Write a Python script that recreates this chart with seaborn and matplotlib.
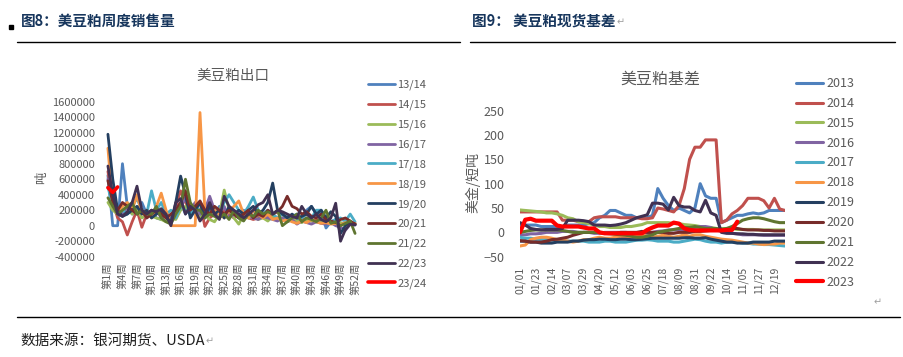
"""
Two panels: US soymeal weekly export sales and US soymeal spot basis.
"""
import matplotlib
matplotlib.use("Agg")
import matplotlib.pyplot as plt
from matplotlib.lines import Line2D
from matplotlib.patches import Rectangle
from matplotlib.ticker import FuncFormatter
import pandas as pd
import seaborn as sns

# ---------------- 图8 data (tonnes per week) ----------------
weeks = list(range(1, 53))
week_ticks = [1, 4, 7, 10, 13, 16, 19, 22, 25, 28, 31, 34, 37, 40, 43, 46, 49, 52]
week_labels = ['第1周', '第4周', '第7周', '第10周', '第13周', '第16周', '第19周', '第22周', '第25周',
               '第28周', '第31周', '第34周', '第37周', '第40周', '第43周', '第46周', '第49周', '第52周']

seasons = ['13/14', '14/15', '15/16', '16/17', '17/18', '18/19', '19/20', '20/21', '21/22', '22/23', '23/24']
season_colors = ['#4F81BD', '#C0504D', '#9BBB59', '#8064A2', '#4BACC6', '#F79646',
                 '#243F60', '#772C2A', '#5F7530', '#403152', '#FF0000']

s1314 = [650000, 0, 0, 800000, 250000, 150000, 200000, 300000, 150000, 200000, 100000, 80000, 150000,
         100000, 250000, 300000, 150000, 250000, 200000, 150000, 100000, 200000, 150000, 250000, 100000,
         200000, 150000, 100000, 200000, 150000, 200000, 100000, 150000, 200000, 120000, 100000, 80000,
         120000, 100000, 60000, 100000, 200000, 250000, 150000, 180000, -30000, 50000, 80000, 30000,
         40000, 20000, 10000]
s1415 = [700000, 300000, 100000, 50000, -120000, 50000, 200000, -20000, 150000, 200000, 150000, 200000,
         100000, 80000, 250000, 450000, 300000, 200000, 250000, 300000, -10000, 100000, 150000, 120000,
         200000, 150000, 100000, 150000, 120000, 100000, 80000, 100000, 120000, 100000, 150000, 80000,
         100000, 60000, 80000, 50000, 70000, 100000, 60000, 80000, 50000, 40000, 60000, 30000, 10000,
         40000, 20000, 30000]
s1516 = [300000, 200000, 150000, 200000, 250000, 150000, 200000, 100000, 150000, 120000, 100000, 80000,
         50000, 100000, 80000, 200000, 250000, 150000, 200000, 100000, 150000, 80000, 50000, 150000,
         460000, 200000, 100000, 20000, 150000, 100000, 120000, 80000, 100000, 60000, 120000, 80000,
         100000, 50000, 80000, 60000, 40000, 80000, 60000, 50000, 40000, 60000, 30000, 20000, 40000,
         10000, 30000, 20000]
s1617 = [600000, 250000, 200000, 150000, 250000, 200000, 150000, 200000, 100000, 150000, 200000, 100000,
         150000, 80000, 200000, 250000, 350000, 200000, 300000, 150000, 200000, 380000, 200000, 150000,
         250000, 100000, 150000, 100000, 150000, 120000, 100000, 80000, 120000, 100000, 80000, 60000,
         100000, 50000, 80000, 20000, 60000, 40000, 20000, 50000, 30000, 20000, 40000, 0, -20000,
         -60000, 20000, 10000]
s1718 = [500000, 250000, 150000, 200000, 150000, 250000, 350000, 200000, 150000, 450000, 200000, 300000,
         150000, 200000, 100000, 250000, 200000, 150000, 250000, 200000, 150000, 250000, 200000, 150000,
         300000, 400000, 300000, 200000, 150000, 250000, 370000, 200000, 150000, 200000, 150000, 100000,
         150000, 100000, 120000, 150000, 100000, 150000, 100000, 200000, 200000, 100000, 50000, 80000,
         100000, 60000, 150000, 50000]
s1819 = [1000000, 250000, 150000, 250000, 300000, 200000, 400000, 150000, 200000, 100000, 250000, 420000,
         200000, 0, 0, 0, 0, 0, 0, 1460000, 200000, 150000, 200000, 150000, 100000, 200000, 250000,
         320000, 150000, 100000, 200000, 150000, 100000, 150000, 80000, 100000, 60000, 80000, 50000,
         30000, 60000, 40000, 80000, 50000, 30000, 40000, 20000, 30000, 10000, 40000, 20000, 30000]
s1920 = [1180000, 600000, 200000, 120000, 150000, 200000, 250000, 150000, 200000, 100000, 150000, 200000,
         100000, 50000, 300000, 640000, 400000, 100000, 200000, 300000, 100000, 250000, 150000, 200000,
         100000, 250000, 150000, 200000, 150000, 200000, 250000, 150000, 200000, 300000, 550000, 200000,
         150000, 100000, 150000, 100000, 120000, 150000, 250000, 150000, 200000, 100000, 180000, 120000,
         -100000, 0, 50000, 20000]
s2021 = [580000, 300000, 200000, 300000, 250000, 200000, 150000, 200000, 100000, 150000, 200000, 150000,
         100000, 150000, 200000, 300000, 450000, 200000, 250000, 320000, 200000, 150000, 250000, 200000,
         150000, 200000, 150000, 100000, 150000, 200000, 100000, 150000, 120000, 200000, 150000, 180000,
         250000, 380000, 250000, 220000, 150000, 180000, 120000, 100000, 150000, 80000, 60000, 40000,
         80000, 100000, 60000, 20000]
s2122 = [360000, 250000, 150000, 200000, 250000, 300000, 150000, 200000, 150000, 150000, 250000, 100000,
         50000, 20000, 150000, 250000, 600000, 300000, 200000, 200000, 100000, 150000, 120000, 100000,
         150000, 80000, 200000, 100000, 60000, 150000, 120000, 200000, 150000, 180000, 150000, 200000,
         0, 50000, 100000, 150000, 50000, 100000, 80000, 50000, 100000, 200000, 30000, 50000, 0, 30000,
         60000, -100000]
s2223 = [770000, 400000, 150000, 120000, 180000, 300000, 510000, 200000, 150000, 200000, 180000, 220000,
         150000, 0, 300000, 350000, 150000, 250000, 200000, 60000, 150000, 300000, 150000, 80000, 380000,
         250000, 200000, 150000, 100000, 150000, 200000, 270000, 300000, 400000, 150000, 200000, 180000,
         150000, 120000, 100000, 250000, 150000, 100000, 150000, 80000, 50000, 100000, 290000, -200000,
         -50000, 20000, 10000]
s2324 = [490000, 430000, 500000]

season_values = [s1314, s1415, s1516, s1617, s1718, s1819, s1920, s2021, s2122, s2223, s2324]

# ---------------- 图9 data (USD per short ton) ----------------
day_idx = list(range(51))
date_ticks = [0, 3, 6, 9, 12, 15, 18, 21, 24, 27, 30, 33, 36, 39, 42, 45, 48]
date_labels = ['01/01', '01/23', '02/14', '03/07', '03/29', '04/20', '05/12', '06/03', '06/25',
               '07/18', '08/09', '08/31', '09/22', '10/14', '11/05', '11/27', '12/19']

years = ['2013', '2014', '2015', '2016', '2017', '2018', '2019', '2020', '2021', '2022', '2023']
year_colors = season_colors

b2013 = [15, 15, 15, 15, 12, 12, 12, 12, 12, 15, 15, 15, 15, 18, 20, 30, 35, 45, 45, 40, 35, 35, 30, 30,
         30, 35, 90, 70, 55, 45, 50, 45, 40, 50, 100, 75, 70, 70, 20, 25, 30, 35, 35, 38, 40, 38, 40, 45,
         45, 45, 45]
b2014 = [42, 42, 42, 42, 42, 42, 42, 42, 25, 25, 25, 22, 22, 22, 30, 32, 32, 32, 32, 30, 30, 30, 30, 28,
         28, 30, 50, 48, 45, 42, 55, 90, 150, 175, 175, 190, 190, 190, 20, 25, 38, 45, 55, 70, 70, 70,
         65, 50, 70, 48, 45]
b2015 = [46, 45, 44, 43, 42, 40, 40, 38, 35, 30, 28, 22, 20, 18, 15, 12, 12, 10, 10, 10, 12, 12, 14, 16,
         20, 20, 20, 20, 20, 18, 18, 16, 15, 14, 12, 10, 10, 8, 8, 8, 8, 6, 6, 6, 6, 5, 5, 5, 5, 5, 5]
b2016 = [-5, -5, -3, -3, -2, 0, 0, 0, 2, 2, 2, 0, 0, 0, -2, -2, 0, 0, 0, 0, 0, -2, -2, -3, -3, 0, 2, 3,
         5, 5, 5, 5, 8, 10, 12, 12, 10, 5, 2, 0, -2, -3, -5, -5, -5, -5, -6, -6, -6, -6, -6]
b2017 = [-10, -12, -12, -14, -15, -15, -16, -16, -18, -18, -18, -18, -18, -20, -20, -20, -18, -18, -20,
         -20, -20, -18, -16, -16, -15, -16, -18, -18, -18, -20, -20, -18, -16, -14, -15, -18, -20, -20,
         -22, -20, -20, -20, -22, -22, -24, -24, -25, -25, -26, -27, -28]
b2018 = [-28, -26, -15, -12, -10, -10, -12, -15, -15, -18, -20, -18, -15, -15, -12, -10, -12, -12, -10,
         -8, -10, -10, -8, -5, -8, -10, -8, -6, -8, -10, -8, -5, -8, -5, -5, -8, -10, -12, -14, -15, -16,
         -18, -20, -22, -22, -24, -25, -24, -24, -22, -22]
b2019 = [-18, -18, -20, -20, -22, -22, -22, -20, -20, -20, -18, -18, -16, -15, -15, -14, -14, -15, -15,
         -14, -14, -15, -15, -14, -13, -12, -12, -12, -12, -12, -12, -11, -11, -12, -12, -11, -14, -16,
         -18, -20, -20, -22, -22, -22, -20, -20, -20, -20, -18, -18, -18]
b2020 = [-17, -18, -20, -20, -20, -18, -15, -14, -12, -10, -6, -3, 0, 0, 0, 0, -2, -2, -2, 0, 0, 0, 0, 2,
         0, 0, 0, 0, -2, -2, 0, 0, 0, 2, 2, 3, 4, 5, 5, 6, 8, 8, 6, 5, 5, 5, 4, 4, 3, 3, 3]
b2021 = [0, 2, 4, 5, 5, 5, 5, 5, 4, 2, 0, 0, 0, 0, 0, 0, -2, -3, -4, -5, -6, -8, -10, -10, -8, -5, 0, 2,
         4, 6, 8, 10, 10, 12, 10, 8, 8, 8, 6, 8, 12, 18, 25, 28, 30, 30, 28, 25, 22, 20, 20]
b2022 = [20, 15, 8, 6, 5, 6, 6, 6, 8, 25, 25, 25, 24, 22, 15, 15, 15, 14, 15, 17, 20, 25, 30, 33, 36, 60,
         60, 58, 46, 72, 55, 52, 52, 45, 42, 66, 40, 35, 0, -2, -2, -3, -3, -4, -4, -5, -5, -5, -5, -5, -5]
b2023 = [0, 26, 28, 24, 24, 24, 24, 14, 12, 12, 12, 12, 10, 8, 8, 0, -2, -2, -2, -2, -2, -2, -2, -2, 5,
         10, 14, 14, 14, 20, 18, 8, 5, 4, 4, 4, 4, 4, 4, 5, 5, 22]

year_values = [b2013, b2014, b2015, b2016, b2017, b2018, b2019, b2020, b2021, b2022, b2023]


def main():
    sns.set_style("white")
    plt.rcParams['font.family'] = ['Noto Sans CJK SC', 'DejaVu Sans']
    grey = '#595959'
    mark = '#A0A0A0'

    W, H = 904, 357
    fig = plt.figure(figsize=(W / 100, H / 100), dpi=100)

    def px_axes(x0, y0, x1, y1):
        return fig.add_axes([x0 / W, 1 - y1 / H, (x1 - x0) / W, (y1 - y0) / H])

    # ---- left chart ----
    ax1 = px_axes(105.5, 101.7, 357.5, 256.7)
    for name, vals, col in zip(seasons, season_values, season_colors):
        d = pd.DataFrame({'week': weeks[:len(vals)], 'val': vals})
        sns.lineplot(data=d, x='week', y='val', color=col, ax=ax1, label=name, legend=False,
                     linewidth=2.6 if name == '23/24' else 2.0)
    ax1.set_xlim(0.5, 52.5)
    ax1.set_ylim(-400000, 1600000)
    ax1.set_yticks(range(-400000, 1600001, 200000))
    ax1.yaxis.set_major_formatter(FuncFormatter(lambda v, p: f'{int(v)}'))
    ax1.set_xticks(week_ticks)
    ax1.set_xticklabels(week_labels, rotation=90, va='top', ha='center')
    ax1.tick_params(axis='y', length=0, pad=7.5, labelsize=8, labelcolor=grey)
    ax1.tick_params(axis='x', length=0, pad=4, labelsize=7.5, labelcolor=grey)
    ax1.set_xlabel('')
    ax1.set_ylabel('')
    sns.despine(ax=ax1, left=True, bottom=True)
    h1, l1 = ax1.get_legend_handles_labels()
    fig.legend(h1, l1, loc='upper left', bbox_to_anchor=(368 / W, 1 - 80 / H), frameon=False,
               fontsize=8, labelcolor=grey, handlelength=2.4, handletextpad=0.25,
               labelspacing=0.84, borderpad=0, borderaxespad=0)
    fig.text(233 / W, 1 - 76 / H, '美豆粕出口', ha='center', va='center', fontsize=10.5, color=grey)
    fig.text(42 / W, 1 - 178 / H, '吨', ha='center', va='center', rotation=90, fontsize=9, color=grey)

    # ---- right chart ----
    ax2 = px_axes(520, 110.7, 785, 256.7)
    for name, vals, col in zip(years, year_values, year_colors):
        d = pd.DataFrame({'day': day_idx[:len(vals)], 'val': vals})
        sns.lineplot(data=d, x='day', y='val', color=col, ax=ax2, label=name, legend=False,
                     linewidth=3.0 if name == '2023' else 2.2)
    ax2.set_xlim(0, 50)
    ax2.set_ylim(-50, 250)
    ax2.set_yticks(range(-50, 251, 50))
    ax2.set_xticks(date_ticks)
    ax2.set_xticklabels(date_labels, rotation=90, va='top', ha='center')
    ax2.tick_params(axis='y', length=0, pad=11, labelsize=9, labelcolor=grey)
    ax2.tick_params(axis='x', length=0, pad=7, labelsize=7.5, labelcolor=grey)
    ax2.set_xlabel('')
    ax2.set_ylabel('')
    sns.despine(ax=ax2, left=True, bottom=True)
    h2, l2 = ax2.get_legend_handles_labels()
    fig.legend(h2, l2, loc='upper left', bbox_to_anchor=(796 / W, 1 - 77 / H), frameon=False,
               fontsize=9, labelcolor=grey, handlelength=2.2, handletextpad=0.2,
               labelspacing=0.55, borderpad=0, borderaxespad=0)
    fig.text(660 / W, 1 - 79 / H, '美豆粕基差', ha='center', va='center', fontsize=11.5, color=grey)
    fig.text(473 / W, 1 - 183 / H, '美金/短吨', ha='center', va='center', rotation=90,
             fontsize=10, color=grey)

    # ---- page decoration ----
    navy = '#17365D'
    fig.add_artist(Rectangle((9 / W, 1 - 29 / H), 4 / W, 4 / H, color='black',
                             transform=fig.transFigure))
    fig.text(21 / W, 1 - 21 / H, '图8：美豆粕周度销售量', ha='left', va='center', fontsize=10.5,
             fontweight='bold', color=navy)
    t9 = fig.text(472 / W, 1 - 21 / H, '图9： 美豆粕现货基差', ha='left', va='center', fontsize=10.5,
                  fontweight='bold', color=navy)
    fig.add_artist(Line2D([17 / W, 460 / W], [1 - 42 / H] * 2, color='black', lw=1))
    fig.add_artist(Line2D([470 / W, 895 / W], [1 - 42 / H] * 2, color='black', lw=1))
    fig.text(878 / W, 1 - 302 / H, '↵', ha='center', va='center', fontsize=7, color=mark)
    fig.add_artist(Line2D([17 / W, 900 / W], [1 - 317 / H] * 2, color='black', lw=1))
    src = fig.text(20 / W, 1 - 341 / H, '数据来源：银河期货、USDA', ha='left', va='center',
                   fontsize=10.5, color='#202020')

    # return marks right after the header / source texts
    renderer = fig.canvas.get_renderer()
    for t, y in ((t9, 22), (src, 341)):
        bb = t.get_window_extent(renderer)
        fig.text((bb.x1 + 1) / W, 1 - y / H, '↵', ha='left', va='center', fontsize=7, color=mark)

    fig.savefig('out.png', dpi=100, facecolor='white')


if __name__ == "__main__":
    main()
